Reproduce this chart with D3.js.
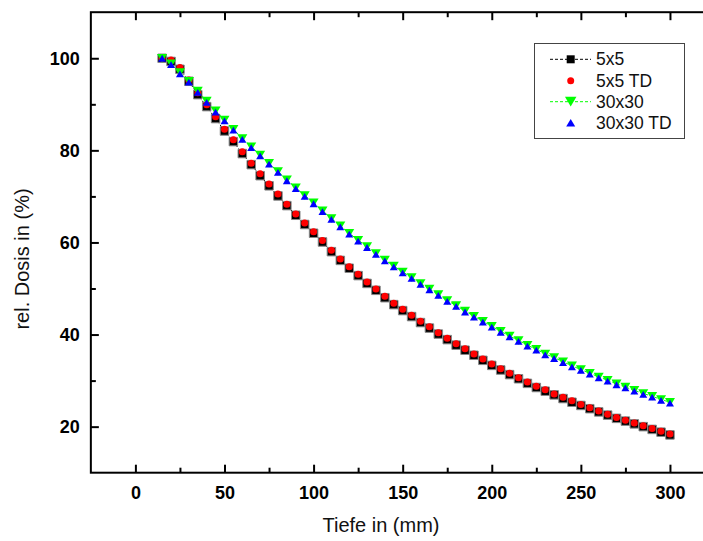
<!DOCTYPE html>
<html>
<head>
<meta charset="utf-8">
<script src="https://cdn.jsdelivr.net/npm/d3@7"></script>
<style>
  html, body { margin: 0; padding: 0; background: #fff; }
  svg { display: block; }
</style>
</head>
<body>
<svg id="chart" width="703" height="541"></svg>
<script>
// Depth (mm) of every measured point
const depth = d3.range(15, 301, 5);

// Relative dose (%) per field size
const dose5x5 = [100.0, 99.3, 97.6, 95.0, 92.1, 89.5, 86.9, 84.2, 81.9, 79.3,
  76.9, 74.5, 72.3, 70.1, 68.0, 65.9, 63.9, 62.0, 60.1, 58.0,
  56.1, 54.4, 52.8, 51.1, 49.6, 48.0, 46.5, 45.2, 43.9, 42.6,
  41.4, 40.1, 38.9, 37.7, 36.6, 35.5, 34.4, 33.3, 32.3, 31.3,
  30.4, 29.4, 28.5, 27.7, 26.9, 26.1, 25.3, 24.6, 23.9, 23.2,
  22.5, 21.8, 21.2, 20.6, 20.0, 19.4, 18.8, 18.2];
const dose5x5TD = [100.0, 99.6, 98.0, 95.3, 92.5, 89.9, 87.3, 84.6, 82.3, 79.7,
  77.2, 74.9, 72.7, 70.5, 68.3, 66.2, 64.2, 62.3, 60.4, 58.3,
  56.4, 54.7, 53.1, 51.4, 49.9, 48.3, 46.8, 45.5, 44.2, 42.9,
  41.7, 40.4, 39.2, 38.0, 36.9, 35.8, 34.7, 33.6, 32.6, 31.6,
  30.6, 29.7, 28.8, 28.0, 27.1, 26.4, 25.6, 24.8, 24.1, 23.4,
  22.7, 22.0, 21.4, 20.8, 20.2, 19.6, 19.0, 18.4];
const dose30x30 = [100.0, 98.8, 96.9, 95.0, 92.9, 90.7, 88.6, 86.6, 84.6, 82.6,
  80.8, 79.0, 77.2, 75.4, 73.6, 71.9, 70.2, 68.6, 66.9, 65.2,
  63.6, 62.0, 60.5, 59.1, 57.6, 56.2, 54.9, 53.6, 52.4, 51.1,
  49.9, 48.7, 47.4, 46.3, 45.1, 44.0, 42.9, 41.8, 40.7, 39.7,
  38.7, 37.7, 36.8, 35.8, 35.0, 34.1, 33.2, 32.4, 31.6, 30.8,
  30.1, 29.3, 28.6, 27.9, 27.2, 26.6, 25.9, 25.3];
const dose30x30TD = [100.0, 98.6, 96.6, 94.8, 92.6, 90.4, 88.3, 86.4, 84.4, 82.4,
  80.6, 78.8, 77.0, 75.2, 73.4, 71.7, 70.0, 68.4, 66.7, 65.0,
  63.4, 61.8, 60.3, 58.9, 57.4, 56.0, 54.7, 53.4, 52.2, 50.9,
  49.7, 48.5, 47.2, 46.1, 44.9, 43.8, 42.7, 41.6, 40.5, 39.5,
  38.5, 37.5, 36.6, 35.6, 34.8, 33.9, 33.0, 32.2, 31.4, 30.6,
  29.9, 29.1, 28.4, 27.7, 27.0, 26.4, 25.7, 25.1];

const seriesNames = ["5x5", "5x5 TD", "30x30", "30x30 TD"];

// Tick values
const xMajor = [0, 50, 100, 150, 200, 250, 300];
const xMinor = [25, 75, 125, 175, 225, 275];
const yMajor = [20, 40, 60, 80, 100];
const yMinor = [30, 50, 70, 90];

const svg = d3.select("#chart");

const x = d3.scaleLinear().domain([-25, 320]).range([90.85, 705.6]);
const y = d3.scaleLinear().domain([10, 110]).range([472.7, 12.2]);

const FONT = "'Liberation Sans', Arial, Helvetica, sans-serif";

// Plot styling per series
const styles = [
  { values: dose5x5,    shape: "square", fill: "#000000", line: "#000000", size: 8.5 },
  { values: dose5x5TD,  shape: "circle", fill: "#ff0000", line: null,      size: 7 },
  { values: dose30x30,  shape: "down",   fill: "#00ff00", line: "#00ff00", size: 10 },
  { values: dose30x30TD,shape: "up",     fill: "#0000ff", line: null,      size: 8 }
];

function markerPath(shape, s) {
  const h = s / 2;
  if (shape === "square") return `M${-h},${-h}H${h}V${h}H${-h}Z`;
  if (shape === "circle") return `M${h},0A${h},${h} 0 1,1 ${-h},0A${h},${h} 0 1,1 ${h},0Z`;
  if (shape === "down") { const t = s * 0.85; return `M${-h},${-t/2}H${h}L0,${t/2}Z`; }
  if (shape === "up") { const t = s * 0.85; return `M${-h},${t/2}H${h}L0,${-t/2}Z`; }
}

const plot = svg.append("g");

// Dashed connecting lines (drawn beneath the markers)
const line = d3.line().x(d => x(d[0])).y(d => y(d[1]));
styles.forEach(st => {
  if (!st.line) return;
  plot.append("path")
    .datum(depth.map((d, i) => [d, st.values[i]]))
    .attr("fill", "none")
    .attr("stroke", st.line)
    .attr("stroke-width", 1)
    .attr("stroke-dasharray", "3,2")
    .attr("d", line);
});

// Markers
styles.forEach(st => {
  plot.append("g").selectAll("path")
    .data(depth.map((d, i) => [d, st.values[i]]))
    .join("path")
    .attr("transform", d => `translate(${x(d[0])},${y(d[1])})`)
    .attr("d", markerPath(st.shape, st.size))
    .attr("fill", st.fill)
    .attr("stroke", st.shape === "square" ? "#888" : "none")
    .attr("stroke-width", 1);
});

// Frame
const [x0, x1] = x.range();
const [y0, y1] = y.range();
svg.append("rect")
  .attr("x", x0).attr("y", y1)
  .attr("width", x1 - x0).attr("height", y0 - y1)
  .attr("fill", "none").attr("stroke", "#000").attr("stroke-width", 2);

function styleAxis(g) {
  g.select(".domain").remove();
  g.selectAll(".tick line").attr("stroke", "#000").attr("stroke-width", 2);
  g.selectAll(".tick text")
    .attr("fill", "#000")
    .style("font-family", FONT)
    .style("font-weight", "bold")
    .style("font-size", "18px");
}

// Bottom axis
svg.append("g").attr("transform", `translate(0,${y0})`)
  .call(d3.axisBottom(x).tickValues(xMajor).tickSize(-8).tickPadding(14).tickFormat(d3.format("d")))
  .call(styleAxis);
svg.append("g").attr("transform", `translate(0,${y0})`)
  .call(d3.axisBottom(x).tickValues(xMinor).tickSize(-5).tickFormat(""))
  .call(styleAxis);

// Top axis (ticks only)
svg.append("g").attr("transform", `translate(0,${y1})`)
  .call(d3.axisTop(x).tickValues(xMajor).tickSize(-8).tickFormat(""))
  .call(styleAxis);
svg.append("g").attr("transform", `translate(0,${y1})`)
  .call(d3.axisTop(x).tickValues(xMinor).tickSize(-5).tickFormat(""))
  .call(styleAxis);

// Left axis
svg.append("g").attr("transform", `translate(${x0},0)`)
  .call(d3.axisLeft(y).tickValues(yMajor).tickSize(-8).tickPadding(11).tickFormat(d3.format("d")))
  .call(styleAxis);
svg.append("g").attr("transform", `translate(${x0},0)`)
  .call(d3.axisLeft(y).tickValues(yMinor).tickSize(-5).tickFormat(""))
  .call(styleAxis);

// Axis titles
svg.append("text")
  .attr("x", 381).attr("y", 532)
  .attr("text-anchor", "middle")
  .style("font-family", FONT).style("font-size", "20px").attr("fill", "#111")
  .text("Tiefe in (mm)");
svg.append("text")
  .attr("transform", "translate(29,259) rotate(-90)")
  .attr("text-anchor", "middle")
  .style("font-family", FONT).style("font-size", "20px").attr("fill", "#111")
  .text("rel. Dosis in (%)");

// Legend
const legend = svg.append("g");
legend.append("rect")
  .attr("x", 534.5).attr("y", 43.5).attr("width", 150).attr("height", 95)
  .attr("fill", "#fff").attr("stroke", "#444").attr("stroke-width", 1);
const rowY = [59.3, 80.7, 101.7, 122.7];
const legendMarkerSize = [8, 7, 11.5, 9];
styles.forEach((st, i) => {
  const g = legend.append("g").attr("transform", `translate(0,${rowY[i]})`);
  if (st.line) {
    g.append("line").attr("x1", 550).attr("x2", 591).attr("y1", 0).attr("y2", 0)
      .attr("stroke", st.line).attr("stroke-width", 1).attr("stroke-dasharray", "3,2");
  }
  g.append("path")
    .attr("transform", "translate(570.7,0)")
    .attr("d", markerPath(st.shape, legendMarkerSize[i]))
    .attr("fill", st.fill);
  g.append("text")
    .attr("x", 596).attr("y", 0).attr("dy", "0.35em")
    .style("font-family", FONT).style("font-size", "17.5px").attr("fill", "#111")
    .text(seriesNames[i]);
});
</script>
</body>
</html>
